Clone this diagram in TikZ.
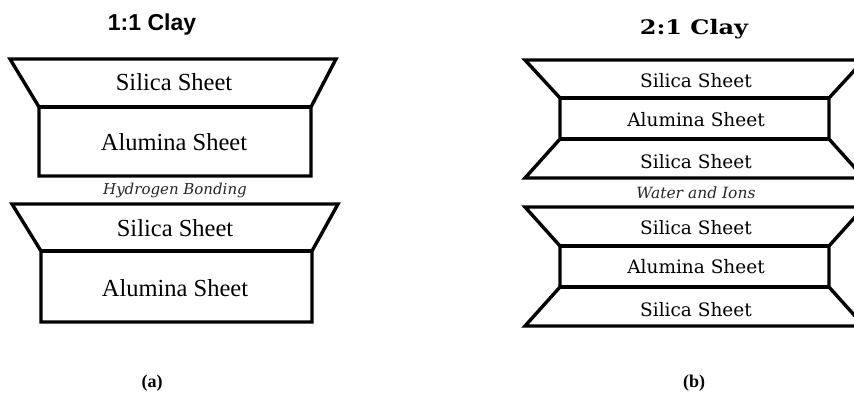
\documentclass[tikz,border=0pt]{standalone}
\usepackage{fontspec}
\setmainfont{Liberation Serif}
\newfontfamily\dvs{DejaVu Serif}
\newfontfamily\lsans{Liberation Sans}
\begin{document}
\begin{tikzpicture}[x=1pt,y=-1pt,
  sheet/.style={draw=black,line width=3.4pt,line join=miter,fill=white},
  divider/.style={draw=black,line width=3.4pt},
  lbla/.style={font=\fontsize{24.5}{26}\selectfont,inner sep=0pt},
  lblb/.style={font=\dvs\fontsize{18.5}{20}\selectfont,inner sep=0pt},
  gaptext/.style={font=\dvs\itshape\fontsize{15}{17}\selectfont,text=black!85,inner sep=0pt},
  sublabel/.style={font=\bfseries\fontsize{18}{20}\selectfont,inner sep=0pt}]
\useasboundingbox (0,0) rectangle (854,396);
\clip (0,0) rectangle (854,396);
\fill[white] (0,0) rectangle (854,396);

% ---------- (a) 1:1 clay ----------
\node[font=\lsans\bfseries\fontsize{23}{25}\selectfont,inner sep=0pt] (ta) at (152,25) {1:1 Clay};

\path[sheet] (10,59) -- (336,59) -- (311,107) -- (311,176) -- (39,176) -- (39,107) -- cycle;
\coordinate (a1l) at (39,107); \coordinate (a1r) at (311,107);
\draw[divider] (a1l) -- (a1r);
\node[lbla] (a1s) at (174,82) {Silica Sheet};
\node[lbla] (a1a) at (174,142) {Alumina Sheet};

\node[gaptext] (hb) at (175,190) {Hydrogen Bonding};

\path[sheet] (12,204) -- (338,204) -- (312,251) -- (312,322) -- (41,322) -- (41,251) -- cycle;
\coordinate (a2l) at (41,251); \coordinate (a2r) at (312,251);
\draw[divider] (a2l) -- (a2r);
\node[lbla] (a2s) at (175,228) {Silica Sheet};
\node[lbla] (a2a) at (175,288) {Alumina Sheet};

\node[sublabel] (ca) at (152,383) {(a)};

% ---------- (b) 2:1 clay ----------
\node[font=\dvs\bfseries\fontsize{20}{22}\selectfont,inner sep=0pt] (tb) at (694,29) {\scalebox{1.2}[1]{2:1 Clay}};

\path[sheet] (525,60) -- (864,60) -- (829,98) -- (829,139) -- (864,178) -- (525,178) -- (560,139) -- (560,98) -- cycle;
\coordinate (b1p) at (560,98); \coordinate (b1q) at (829,98);
\coordinate (b1r) at (560,139); \coordinate (b1u) at (829,139);
\draw[divider] (b1p) -- (b1q);
\draw[divider] (b1r) -- (b1u);
\node[lblb] (b1s) at (696,81) {Silica Sheet};
\node[lblb] (b1a) at (696,120) {Alumina Sheet};
\node[lblb] (b1t) at (696,162) {Silica Sheet};

\node[gaptext,font=\dvs\itshape\fontsize{15.5}{17}\selectfont] (wi) at (696,193) {Water and Ions};

\path[sheet] (525,207) -- (864,207) -- (829,246) -- (829,287) -- (864,326) -- (525,326) -- (560,287) -- (560,246) -- cycle;
\coordinate (b2p) at (560,246); \coordinate (b2q) at (829,246);
\coordinate (b2r) at (560,287); \coordinate (b2u) at (829,287);
\draw[divider] (b2p) -- (b2q);
\draw[divider] (b2r) -- (b2u);
\node[lblb] (b2s) at (696,228) {Silica Sheet};
\node[lblb] (b2a) at (696,267) {Alumina Sheet};
\node[lblb] (b2t) at (696,310) {Silica Sheet};

\node[sublabel] (cb) at (694,383) {(b)};
\end{tikzpicture}
\end{document}
